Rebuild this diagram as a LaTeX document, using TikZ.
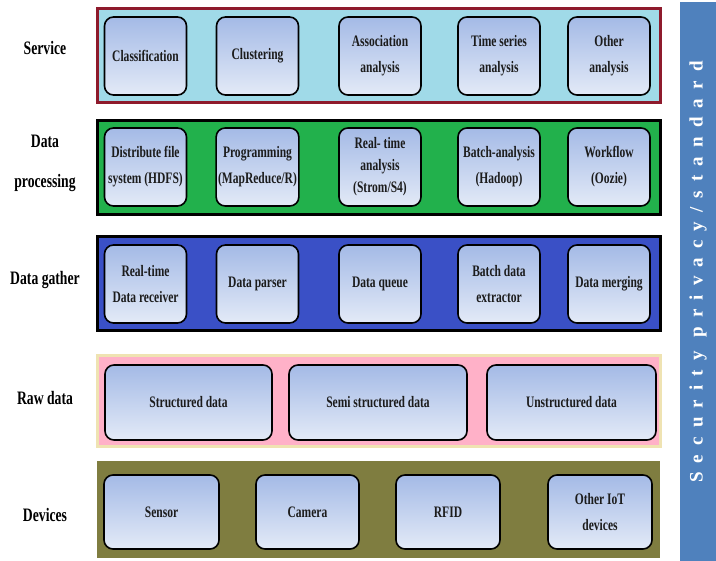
\documentclass[tikz,border=0pt]{standalone}
\usepackage{fontspec}
\setmainfont{Liberation Serif}[FakeStretch=0.72]
\newfontfamily\barfont{Liberation Serif}[LetterSpace=48]
\definecolor{srvfill}{HTML}{A0DAE8}
\definecolor{srvline}{HTML}{8E1A2C}
\definecolor{procfill}{HTML}{22B14C}
\definecolor{gathfill}{HTML}{3A50C6}
\definecolor{rawfill}{HTML}{FFB1C8}
\definecolor{rawline}{HTML}{EFE3B2}
\definecolor{devfill}{HTML}{7F7D40}
\definecolor{barblue}{HTML}{4F81BD}
\definecolor{boxtop}{HTML}{A4BAE6}
\definecolor{boxbot}{HTML}{E3EAF7}
\definecolor{txtdark}{HTML}{1C1C1C}
\tikzset{
  band/.style={rectangle, line width=3pt, inner sep=0pt, minimum width=563, minimum height=94},
  ibox/.style={rectangle, rounded corners=9pt, draw=black, line width=1.6pt,
    top color=boxtop, bottom color=boxbot, align=center, text=txtdark,
    font=\fontsize{16}{26}\selectfont\bfseries, inner sep=2pt, minimum height=78, minimum width=82},
  lab/.style={align=center, text=black, font=\fontsize{19}{40}\selectfont\bfseries}
}
\begin{document}
\begin{tikzpicture}[x=1pt,y=-1pt]
\useasboundingbox (0,0) rectangle (716,561);
% bands
\node[band, draw=srvline, fill=srvfill] (bsrv) at (378.5,56) {};
\node[band, draw=black, fill=procfill] (bproc) at (378.5,167.5) {};
\node[band, draw=black, fill=gathfill] (bgath) at (378.5,283.5) {};
\node[band, draw=rawline, fill=rawfill, minimum height=91] (braw) at (378.5,401.5) {};
\node[band, fill=devfill, minimum height=97, line width=0pt] (bdev) at (378.5,509.5) {};
% labels
\node[lab] (lsrv) at (45,48) {Service};
\node[lab] (lproc) at (45,163) {Data\\processing};
\node[lab] (lgath) at (45,280) {Data gather};
\node[lab] (lraw) at (45,398) {Raw data};
\node[lab] (ldev) at (45,515) {Devices};
% service
\node[ibox] (s1) at (145.5,56) {Classification};
\node[ibox] (s2) at (257.5,56) {Clustering};
\node[ibox] (s3) at (380,56) {Association\\analysis};
\node[ibox] (s4) at (499,56) {Time series\\analysis};
\node[ibox] (s5) at (609,56) {Other\\analysis};
% processing
\node[ibox] (p1) at (145.5,167) {Distribute file\\system (HDFS)};
\node[ibox] (p2) at (257.5,167) {Programming\\(MapReduce/R)};
\node[ibox, font=\fontsize{16}{22}\selectfont\bfseries] (p3) at (380,167) {Real- time\\analysis\\(Strom/S4)};
\node[ibox] (p4) at (499,167) {Batch-analysis\\(Hadoop)};
\node[ibox] (p5) at (609,167) {Workflow\\(Oozie)};
% gather
\node[ibox] (g1) at (145.5,284) {Real-time\\Data receiver};
\node[ibox] (g2) at (257.5,284) {Data parser};
\node[ibox] (g3) at (380,284) {Data queue};
\node[ibox] (g4) at (499,284) {Batch data\\extractor};
\node[ibox] (g5) at (609,284) {Data merging};
% raw data
\node[ibox, minimum width=167, minimum height=75] (r1) at (188.5,402.5) {Structured data};
\node[ibox, minimum width=178, minimum height=75] (r2) at (378,402.5) {Semi structured data};
\node[ibox, minimum width=169, minimum height=75] (r3) at (571.5,402.5) {Unstructured data};
% devices
\node[ibox, minimum width=115, minimum height=74] (d1) at (161.5,512) {Sensor};
\node[ibox, minimum width=103, minimum height=74] (d2) at (307.5,512) {Camera};
\node[ibox, minimum width=104, minimum height=74] (d3) at (448,512) {RFID};
\node[ibox, minimum width=104, minimum height=74] (d4) at (600,512) {Other IoT\\devices};
% side bar
\node[rectangle, fill=barblue, inner sep=0pt, minimum width=36, minimum height=559, anchor=north west] (bar) at (680,2) {};
\node[rotate=90, text=white, font=\barfont\bfseries\fontsize{19}{22}\selectfont] (bart) at (698,272) {Security privacy/standard};
\end{tikzpicture}
\end{document}
